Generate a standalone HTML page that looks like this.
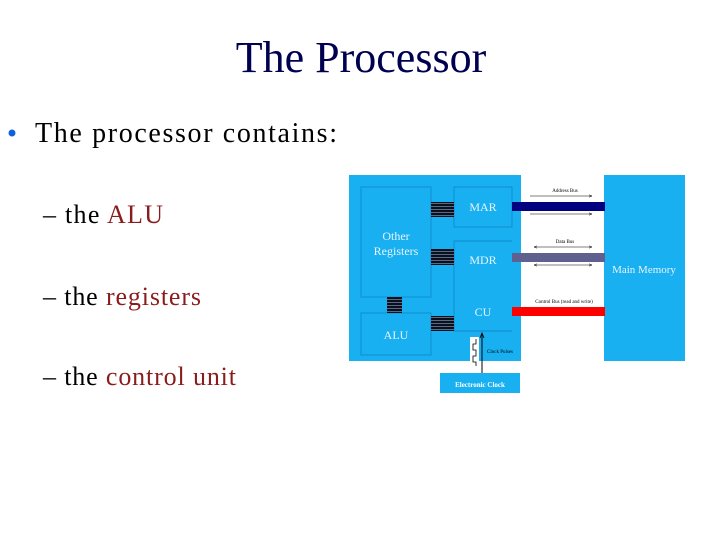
<!DOCTYPE html>
<html><head><style>
body{margin:0;width:720px;height:540px;background:#fff;overflow:hidden}
</style></head><body>
<svg width="720" height="540" xmlns="http://www.w3.org/2000/svg" style="position:absolute;left:0;top:0">
<defs>
<pattern id="h" width="4" height="3" patternUnits="userSpaceOnUse"><rect width="4" height="3" fill="#0a1020"/><rect y="2" width="4" height="1" fill="#5a6a80"/></pattern>
<marker id="a" markerWidth="6" markerHeight="6" refX="5" refY="3" orient="auto"><path d="M0,1 L5,3 L0,5" fill="none" stroke="#000" stroke-width="0.8"/></marker>
<marker id="b" markerWidth="6" markerHeight="6" refX="1" refY="3" orient="auto"><path d="M6,1 L1,3 L6,5" fill="none" stroke="#000" stroke-width="0.8"/></marker>
</defs>
<g font-family="Liberation Serif, serif">
<text x="361" y="72" font-size="44" fill="#000050" text-anchor="middle">The Processor</text>
<circle cx="12" cy="133" r="3.5" fill="#1060e0"/>
<text x="35" y="142" font-size="28" fill="#000" textLength="302" lengthAdjust="spacing">The processor contains:</text>
<text x="43" y="223" font-size="26" fill="#000" textLength="120" lengthAdjust="spacing">– the <tspan fill="#8b1c1c">ALU</tspan></text>
<text x="43" y="305" font-size="26" fill="#000" textLength="158" lengthAdjust="spacing">– the <tspan fill="#8b1c1c">registers</tspan></text>
<text x="43" y="385" font-size="26" fill="#000" textLength="193" lengthAdjust="spacing">– the <tspan fill="#8b1c1c">control unit</tspan></text>

<rect x="349" y="175" width="172" height="186" fill="#18b0f0"/>
<rect x="604" y="175" width="81" height="186" fill="#18b0f0"/>
<g fill="none" stroke="#0a80c0" stroke-width="0.7">
<rect x="361" y="187" width="70" height="110"/>
<rect x="361" y="313" width="70" height="42"/>
<rect x="454" y="187" width="58" height="40"/>
<path d="M512,241 H454 V331 H512"/>
</g>
<rect x="431" y="202" width="23" height="15" fill="url(#h)"/>
<rect x="431" y="249" width="23" height="16" fill="url(#h)"/>
<rect x="431" y="316" width="23" height="15" fill="url(#h)"/>
<rect x="387" y="297" width="15" height="16" fill="url(#h)"/>
<rect x="512" y="202" width="93" height="9" fill="#000080"/>
<rect x="512" y="253" width="93" height="9" fill="#606090"/>
<rect x="512" y="307" width="93" height="9" fill="#ff0000"/>
<line x1="530" y1="196" x2="592" y2="196" stroke="#000" stroke-width="0.6" marker-end="url(#a)"/>
<line x1="530" y1="214" x2="592" y2="214" stroke="#000" stroke-width="0.6" marker-end="url(#a)"/>
<line x1="534" y1="247" x2="592" y2="247" stroke="#000" stroke-width="0.6" marker-end="url(#a)" marker-start="url(#b)"/>
<line x1="534" y1="265" x2="592" y2="265" stroke="#000" stroke-width="0.6" marker-end="url(#a)" marker-start="url(#b)"/>
<g font-size="5" fill="#000" text-anchor="middle">
<text x="565" y="192">Address Bus</text>
<text x="565" y="243">Data Bus</text>
<text x="564" y="303">Control Bus (read and write)</text>
<text x="500" y="353">Clock Pulses</text>
</g>
<g font-size="12" fill="#e8f4ff" text-anchor="middle">
<text x="396" y="240">Other</text>
<text x="396" y="255">Registers</text>
<text x="396" y="339">ALU</text>
<text x="483" y="211">MAR</text>
<text x="483" y="264">MDR</text>
<text x="483" y="316">CU</text>
<text x="644" y="273" font-size="11">Main Memory</text>
</g>
<rect x="470" y="337" width="9" height="30" fill="#fff"/>
<path d="M476,339 v5 h-3 v6 h3 v6 h-3 v6 h3 v4" fill="none" stroke="#000" stroke-width="0.8"/>
<line x1="482" y1="373" x2="482" y2="333" stroke="#000" stroke-width="1" marker-end="url(#a)"/>
<rect x="440" y="373" width="80" height="20" fill="#18b0f0"/>
<text x="480" y="387" font-size="7" fill="#fff" text-anchor="middle" font-weight="bold">Electronic Clock</text>
</g>
</svg>
</body></html>
